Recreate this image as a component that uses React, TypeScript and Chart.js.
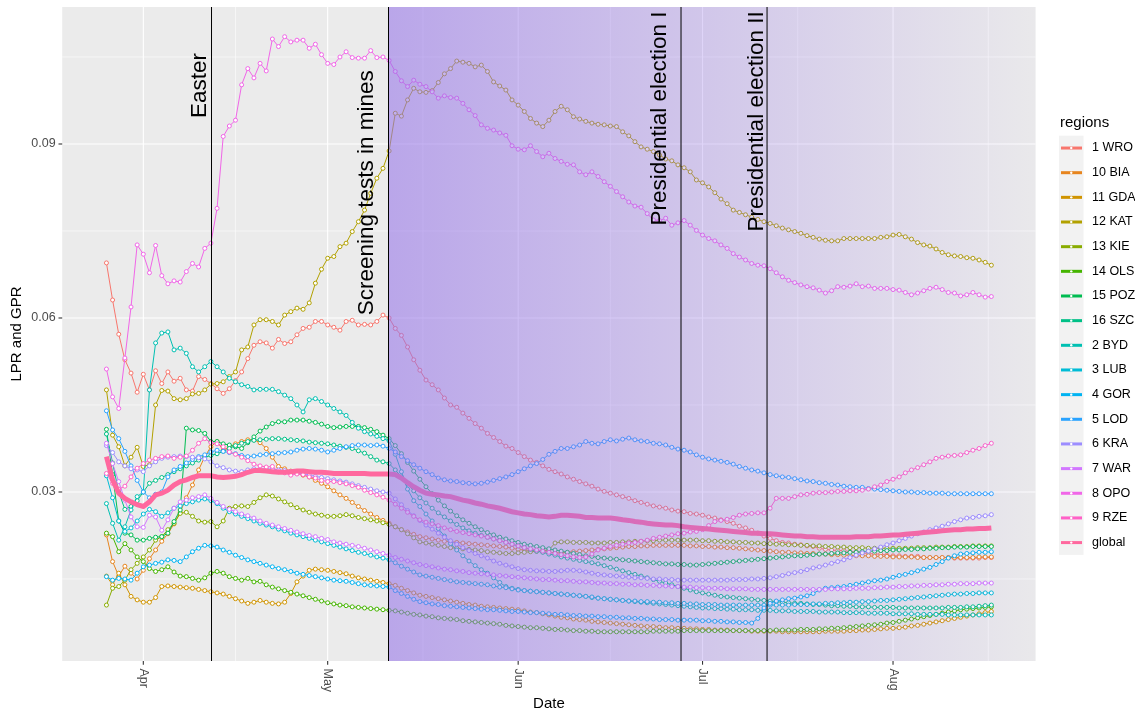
import React, { useEffect, useRef } from "react";
import { Chart, registerables } from "chart.js";

Chart.register(...registerables);

// Daily values from 26 Mar 2020 (day -6, relative to 1 Apr 2020) to 17 Aug 2020,
// expressed in units of 0.0001 (e.g. 512 -> 0.0512)
const FIRST_DAY = -6;
const VALUE_UNIT = 0.0001;

const WRO = [
  695, 631, 572, 528, 505, 472, 503, 476, 509, 487,
  507, 491, 496, 476, 474, 499, 494, 487, 478, 470,
  478, 492, 507, 530, 553, 559, 557, 548, 563, 556,
  559, 571, 582, 584, 594, 594, 588, 584, 579, 594,
  596, 588, 589, 588, 594, 605, 600, 582, 570, 550,
  528, 510, 493, 485, 476, 462, 450, 446, 436, 427,
  418, 410, 401, 394, 387, 379, 375, 368, 361, 355,
  351, 345, 339, 335, 331, 326, 322, 318, 314, 310,
  305, 301, 298, 295, 292, 289, 285, 282, 279, 276,
  274, 272, 269, 267, 266, 263, 262, 260, 257, 255,
  252, 249, 246, 241, 238, 234, 229, 224, 220, 216,
  213, 212, 210, 209, 207, 206, 203, 201, 200, 199,
  199, 197, 197, 195, 194, 193, 193, 191, 190, 190,
  189, 189, 189, 187, 187, 187, 187, 187, 186, 186,
  186, 186, 186, 187, 187,
];
const BIA = [
  226, 180, 155, 172, 160, 150, 165, 185, 200, 215,
  228, 245, 265, 290, 312, 338, 361, 378, 387, 372,
  378, 383, 387, 390, 390, 385, 375, 360, 344, 340,
  336, 332, 329, 326, 320, 315, 309, 302, 295, 289,
  282, 275, 268, 262, 256, 251, 246, 240, 235, 231,
  227, 223, 221, 219, 217, 215, 214, 213, 212, 211,
  210, 209, 208, 207, 206, 205, 203, 201, 200, 199,
  198, 197, 196, 195, 195, 196, 197, 198, 199, 200,
  201, 202, 203, 204, 205, 206, 206, 207, 207, 208,
  208, 208, 208, 208, 208, 207, 207, 206, 206, 205,
  205, 204, 204, 203, 202, 201, 200, 199, 198, 197,
  196, 196, 195, 195, 194, 194, 193, 193, 192, 192,
  191, 191, 190, 190, 190, 189, 189, 189, 188, 188,
  188, 188, 187, 187, 187, 187, 187, 187, 187, 187,
  187, 187, 188, 188, 188,
];
const GDA = [
  155, 140, 160, 140, 120, 114, 110, 110, 118, 137,
  138, 137, 136, 135, 134, 132, 130, 128, 126, 124,
  120, 116, 112, 108, 110, 113, 110, 108, 107, 110,
  125, 145, 155, 165, 167, 166, 165, 163, 161, 159,
  155, 152, 150, 148, 146, 144, 142, 139, 134, 130,
  126, 122, 120, 118, 116, 114, 112, 110, 108, 106,
  105, 103, 102, 101, 100, 99, 98, 97, 95, 93,
  92, 90, 88, 86, 84, 83, 81, 80, 79, 77,
  76, 75, 74, 73, 72, 71, 70, 69, 68, 68,
  67, 66, 66, 65, 65, 64, 64, 63, 63, 62,
  62, 62, 61, 61, 61, 60, 60, 60, 60, 60,
  59, 59, 59, 59, 59, 59, 59, 60, 60, 60,
  60, 61, 61, 62, 62, 63, 64, 65, 65, 66,
  67, 69, 70, 72, 74, 76, 78, 80, 82, 84,
  86, 88, 90, 92, 94,
];
const KAT = [
  476, 398, 378, 345, 360, 377, 344, 347, 450, 475,
  474, 461, 459, 461, 469, 470, 476, 486, 487, 490,
  499, 507, 545, 550, 588, 597, 597, 594, 588, 605,
  611, 617, 615, 626, 660, 684, 703, 706, 723, 729,
  749, 766, 786, 815, 841, 858, 888, 953, 948, 976,
  996, 990, 989, 992, 1006, 1021, 1030, 1043, 1041, 1039,
  1033, 1036, 1025, 1007, 1000, 993, 976, 967, 956, 944,
  936, 930, 941, 956, 965, 959, 947, 943, 939, 936,
  934, 933, 931, 930, 921, 914, 904, 895, 891, 887,
  881, 874, 871, 864, 859, 852, 838, 833, 826, 816,
  805, 797, 786, 782, 778, 774, 770, 766, 763, 759,
  755, 752, 749, 746, 742, 739, 736, 734, 733, 733,
  737, 737, 737, 737, 737, 737, 739, 740, 743, 744,
  740, 736, 730, 726, 724, 719, 713, 709, 707, 706,
  704, 703, 700, 696, 691,
];
const KIE = [
  105, 134, 137, 148, 166, 177, 188, 200, 217, 223,
  235, 246, 263, 265, 258, 250, 248, 249, 240, 250,
  272, 275, 276, 275, 282, 290, 295, 293, 288, 283,
  278, 273, 269, 265, 262, 260, 258, 258, 259, 261,
  259, 256, 254, 252, 250, 247, 244, 240, 235, 228,
  221, 214, 212, 210, 208, 206, 204, 203, 202, 201,
  200, 199, 197, 196, 195, 194, 194, 195, 196, 197,
  198, 199, 200, 212, 214, 214, 213, 213, 213, 212,
  212, 212, 213, 213, 214, 214, 215, 215, 216, 216,
  217, 217, 217, 217, 217, 217, 217, 216, 216, 215,
  215, 214, 214, 213, 213, 212, 212, 211, 211, 210,
  210, 209, 209, 208, 208, 207, 207, 206, 206, 205,
  205, 204, 204, 204, 203, 203, 203, 203, 203, 203,
  203, 203, 204, 204, 204, 205, 205, 205, 206, 206,
  206, 207, 207, 207, 207,
];
const OLS = [
  229, 223, 197, 211, 200, 188, 180, 168, 163, 166,
  171, 162, 155, 154, 151, 148, 152, 160, 163, 160,
  154, 151, 148, 151, 145, 146, 140, 136, 133, 130,
  127, 124, 121, 118, 115, 112, 109, 107, 105, 104,
  102, 101, 100, 99, 98, 97, 96, 95, 93, 91,
  89, 88, 86, 85, 83, 82, 81, 80, 78, 77,
  76, 75, 74, 73, 72, 70, 69, 68, 67, 66,
  66, 65, 64, 63, 63, 62, 61, 61, 60, 60,
  59, 59, 59, 59, 59, 59, 59, 59, 59, 60,
  60, 60, 60, 60, 61, 61, 61, 61, 61, 61,
  61, 61, 61, 61, 61, 61, 61, 61, 61, 62,
  62, 62, 62, 63, 63, 63, 64, 64, 65, 65,
  66, 67, 68, 69, 70, 71, 72, 74, 75, 77,
  79, 81, 83, 85, 87, 89, 91, 93, 95, 97,
  98, 99, 100, 101, 102,
];
const POZ = [
  408, 330, 250, 229, 226, 217, 217, 220, 222, 223,
  229, 249, 269, 410, 407, 406, 401, 387, 387, 383,
  381, 378, 375, 385, 395, 405, 412, 418, 421, 421,
  424, 424, 424, 422, 420, 417, 413, 411, 412, 413,
  413, 413, 411, 408, 404, 398, 392, 380, 366, 351,
  336, 322, 309, 297, 286, 276, 267, 259, 252, 246,
  240, 235, 230, 226, 222, 219, 216, 213, 210, 208,
  206, 204, 202, 200, 198, 196, 194, 192, 190, 189,
  187, 186, 185, 184, 183, 182, 181, 180, 179, 178,
  177, 176, 176, 175, 175, 174, 174, 175, 176, 177,
  178, 179, 180, 181, 182, 183, 184, 185, 186, 187,
  188, 189, 190, 190, 191, 192, 193, 193, 194, 195,
  195, 196, 196, 197, 198, 198, 199, 199, 200, 200,
  201, 201, 202, 202, 203, 203, 204, 204, 205, 205,
  205, 206, 206, 206, 206,
];
const SZC = [
  400, 350, 300, 270, 275, 285, 300, 315, 320, 325,
  330, 335, 340, 345, 350, 355, 360, 363, 366, 370,
  375, 380, 384, 387, 389, 390, 391, 392, 392, 391,
  390, 389, 388, 386, 385, 384, 383, 381, 379, 377,
  375, 371, 367, 361, 355, 352, 349, 338, 326, 314,
  302, 290, 281, 272, 264, 257, 250, 244, 238, 233,
  229, 225, 222, 219, 216, 213, 210, 207, 204, 201,
  198, 196, 193, 191, 188, 186, 184, 182, 180, 178,
  176, 173, 170, 167, 164, 161, 158, 155, 152, 149,
  146, 143, 140, 137, 134, 131, 128, 126, 124, 122,
  120, 119, 118, 117, 116, 115, 114, 113, 112, 111,
  110, 109, 108, 108, 107, 106, 106, 105, 104, 104,
  103, 103, 102, 102, 102, 101, 101, 101, 101, 100,
  100, 100, 100, 100, 100, 100, 100, 101, 101, 101,
  102, 102, 103, 104, 105,
];
const BYD = [
  280, 246, 217, 240, 269, 292, 300, 476, 557, 574,
  576, 545, 548, 539, 516, 507, 516, 525, 516, 507,
  496, 490, 485, 482, 476, 477, 477, 477, 473, 467,
  461, 450, 438, 459, 461, 456, 450, 444, 438, 432,
  420, 410, 404, 400, 396, 392, 388, 365, 335, 305,
  285, 275, 262, 250, 237, 224, 211, 200, 190, 181,
  173, 166, 160, 152, 144, 137, 134, 132, 130, 129,
  128, 127, 126, 125, 124, 123, 122, 121, 120, 118,
  117, 116, 115, 114, 113, 112, 111, 110, 109, 108,
  107, 106, 105, 104, 103, 102, 101, 100, 100, 99,
  99, 98, 98, 97, 97, 97, 96, 96, 96, 95,
  95, 95, 94, 94, 94, 94, 93, 93, 93, 93,
  92, 92, 92, 92, 91, 91, 91, 91, 90, 90,
  90, 90, 89, 89, 89, 89, 89, 88, 88, 88,
  88, 88, 88, 88, 88,
];
const LUB = [
  328, 290, 250, 232, 238, 250, 262, 270, 266, 258,
  264, 272, 276, 280, 283, 286, 288, 285, 280, 272,
  266, 262, 258, 254, 250, 246, 243, 240, 236, 233,
  229, 226, 223, 220, 217, 214, 211, 208, 205, 202,
  199, 196, 194, 191, 188, 186, 183, 178, 172, 167,
  162, 157, 155, 153, 151, 149, 147, 145, 144, 143,
  142, 141, 140, 138, 136, 135, 133, 131, 130, 129,
  128, 127, 126, 125, 124, 123, 122, 121, 120, 119,
  117, 116, 115, 114, 113, 112, 112, 111, 111, 110,
  110, 109, 109, 108, 108, 107, 107, 106, 106, 106,
  105, 105, 105, 105, 105, 105, 105, 105, 105, 105,
  105, 105, 106, 106, 106, 107, 107, 108, 108, 109,
  109, 110, 110, 111, 111, 112, 113, 113, 114, 115,
  116, 117, 118, 119, 120, 121, 122, 123, 124, 124,
  125, 125, 126, 126, 126,
];
const GOR = [
  154, 148, 151, 150, 148, 160, 171, 174, 177, 179,
  183, 182, 180, 188, 197, 203, 208, 207, 205, 200,
  196, 191, 187, 183, 180, 177, 174, 171, 168, 166,
  163, 160, 158, 156, 154, 152, 150, 148, 147, 146,
  144, 142, 140, 139, 138, 137, 136, 130, 125, 120,
  115, 111, 109, 107, 106, 104, 103, 102, 101, 100,
  99, 98, 97, 97, 96, 95, 94, 94, 93, 92,
  92, 91, 90, 89, 89, 88, 87, 87, 86, 86,
  85, 85, 84, 84, 83, 83, 82, 82, 81, 81,
  80, 80, 80, 79, 79, 79, 79, 78, 78, 77,
  77, 76, 76, 75, 75, 74, 82, 100, 108, 112,
  114, 116, 117, 119, 121, 125, 131, 134, 135, 136,
  137, 139, 141, 143, 145, 147, 148, 150, 153, 156,
  158, 161, 164, 167, 170, 175, 180, 186, 190, 193,
  194, 195, 196, 196, 197,
];
const LOD = [
  440, 407, 392, 370, 345, 320, 300, 290, 296, 300,
  326, 338, 344, 350, 356, 361, 364, 369, 372, 370,
  368, 366, 363, 361, 362, 364, 365, 366, 367, 368,
  369, 372, 374, 375, 374, 372, 369, 372, 375, 378,
  380, 381, 381, 380, 381, 379, 375, 369, 361, 354,
  347, 341, 335, 330, 324, 321, 319, 318, 316, 315,
  314, 315, 317, 320, 323, 326, 330, 335, 340, 345,
  349, 356, 365, 370, 375, 375, 378, 381, 387, 384,
  383, 387, 390, 388, 391, 393, 390, 388, 387, 384,
  383, 381, 377, 374, 372, 369, 364, 360, 357, 355,
  353, 351, 348, 344, 341, 338, 336, 333, 330, 328,
  326, 325, 323, 321, 319, 318, 316, 315, 313, 312,
  310, 309, 308, 308, 306, 305, 304, 303, 302, 301,
  300, 300, 299, 299, 298, 298, 298, 297, 297, 297,
  297, 297, 297, 297, 297,
];
const KRA = [
  380, 368, 352, 345, 340, 338, 335, 345, 352, 358,
  360, 361, 362, 361, 360, 359, 357, 352, 345, 342,
  338, 336, 335, 338, 340, 340, 340, 339, 338, 337,
  335, 333, 331, 329, 327, 325, 323, 321, 319, 317,
  314, 311, 308, 305, 302, 300, 298, 288, 278, 268,
  259, 251, 243, 236, 229, 222, 216, 210, 204, 199,
  194, 190, 186, 181, 177, 174, 171, 168, 166, 165,
  164, 164, 163, 163, 164, 165, 165, 164, 162, 160,
  158, 157, 156, 155, 154, 153, 152, 152, 151, 150,
  150, 149, 149, 148, 148, 148, 148, 148, 148, 148,
  148, 148, 149, 149, 149, 150, 150, 151, 152, 154,
  156, 159, 161, 163, 166, 169, 171, 174, 177, 180,
  183, 187, 191, 195, 198, 202, 205, 209, 212, 216,
  220, 224, 228, 231, 235, 238, 241, 245, 249, 252,
  255, 256, 258, 259, 261,
];
const WAR = [
  384, 349, 318, 286, 257, 240, 239, 260, 257, 234,
  252, 272, 283, 286, 290, 292, 295, 289, 282, 275,
  270, 266, 262, 259, 255, 250, 246, 243, 240, 237,
  234, 231, 228, 225, 223, 220, 218, 214, 212, 210,
  208, 206, 203, 200, 197, 194, 191, 187, 184, 181,
  178, 175, 173, 171, 169, 167, 166, 164, 163, 161,
  160, 159, 158, 157, 156, 155, 154, 153, 152, 151,
  150, 149, 149, 148, 147, 147, 146, 145, 145, 144,
  143, 143, 142, 142, 141, 141, 140, 140, 139, 139,
  138, 138, 137, 137, 136, 136, 135, 135, 134, 134,
  134, 133, 133, 133, 133, 132, 132, 132, 132, 132,
  132, 132, 132, 132, 132, 132, 132, 132, 133, 133,
  133, 133, 134, 134, 134, 135, 135, 136, 136, 137,
  137, 138, 138, 139, 139, 140, 140, 141, 141, 142,
  142, 142, 143, 143, 143,
];
const OPO = [
  512, 464, 444, 531, 619, 726, 710, 678, 725, 673,
  659, 664, 662, 680, 694, 688, 720, 729, 789, 913,
  931, 941, 1002, 1030, 1014, 1039, 1026, 1081, 1068, 1085,
  1076, 1079, 1079, 1065, 1072, 1054, 1039, 1037, 1050, 1059,
  1049, 1048, 1048, 1061, 1049, 1050, 1044, 1025, 1009, 999,
  1010, 1003, 999, 990, 979, 983, 980, 979, 970, 959,
  949, 933, 927, 924, 919, 915, 897, 891, 890, 897,
  887, 878, 884, 875, 870, 865, 864, 852, 847, 852,
  844, 835, 827, 818, 809, 800, 793, 791, 780, 769,
  768, 772, 760, 764, 768, 760, 751, 743, 737, 733,
  726, 720, 711, 705, 700, 694, 691, 690, 685, 678,
  671, 665, 661, 657, 654, 652, 648, 643, 647, 654,
  653, 655, 659, 654, 655, 651, 651, 651, 649, 648,
  644, 640, 643, 647, 651, 653, 649, 644, 643, 638,
  640, 644, 640, 636, 637,
];
const RZE = [
  332, 315, 305, 310, 326, 341, 349, 355, 358, 361,
  362, 358, 360, 362, 372, 384, 392, 385, 383, 378,
  369, 365, 360, 354, 348, 345, 343, 344, 335, 333,
  329, 331, 330, 326, 324, 320, 318, 318, 316, 314,
  311, 308, 303, 299, 295, 291, 286, 279, 272, 265,
  258, 252, 248, 245, 242, 238, 235, 232, 230, 228,
  226, 224, 222, 219, 216, 213, 210, 207, 204, 202,
  200, 198, 196, 194, 192, 190, 188, 187, 188, 193,
  200, 203, 206, 208, 210, 212, 213, 215, 217, 220,
  222, 224, 226, 228, 229, 231, 232, 235, 242, 249,
  251, 253, 256, 260, 262, 263, 264, 264, 272, 289,
  289, 289, 292, 295, 296, 298, 299, 299, 300, 301,
  301, 302, 302, 303, 305, 309, 312, 318, 322, 326,
  333, 338, 342, 347, 352, 358, 360, 362, 363, 364,
  368, 372, 375, 380, 384,
];
const GLOBAL = [
  361, 321, 298, 289, 283, 278, 275, 283, 295, 298,
  303, 312, 318, 321, 325, 328, 328, 328, 326, 325,
  326, 327, 330, 334, 337, 337, 336, 335, 334, 334,
  335, 336, 336, 335, 334, 334, 333, 332, 332, 332,
  332, 332, 332, 331, 331, 331, 331, 330, 324, 316,
  309, 303, 298, 296, 295, 293, 292, 289, 286, 284,
  281, 279, 276, 274, 272, 269, 266, 264, 262, 261,
  259, 258, 257, 258, 260, 260, 259, 258, 256, 256,
  255, 255, 255, 254, 252, 251, 249, 248, 246, 245,
  244, 243, 243, 242, 240, 239, 238, 237, 236, 235,
  234, 233, 232, 231, 230, 229, 229, 228, 228, 227,
  226, 225, 224, 224, 223, 223, 222, 222, 222, 222,
  222, 222, 223, 223, 223, 224, 224, 225, 226, 226,
  227, 228, 229, 230, 231, 232, 233, 234, 235, 235,
  236, 236, 237, 237, 238,
];

const REGION_NAMES = [
  "1 WRO", "10 BIA", "11 GDA", "12 KAT", "13 KIE", "14 OLS", "15 POZ", "16 SZC",
  "2 BYD", "3 LUB", "4 GOR", "5 LOD", "6 KRA", "7 WAR", "8 OPO", "9 RZE", "global",
];
const REGION_VALUES = [
  WRO, BIA, GDA, KAT, KIE, OLS, POZ, SZC, BYD, LUB, GOR, LOD, KRA, WAR, OPO, RZE, GLOBAL,
];

// axis breaks (x in days relative to 1 April 2020)
const MONTH_LABELS = ["Apr", "May", "Jun", "Jul", "Aug"];
const MONTH_DAYS = [0, 30, 61, 91, 122];
const MINOR_X_DAYS = [15, 45.5, 76, 106.5, 137.5];
const Y_TICKS = [0.03, 0.06, 0.09];
const Y_TICK_LABELS = ["0.03", "0.06", "0.09"];
const Y_MINOR = [0.015, 0.045, 0.075, 0.105];
const X_RANGE = [-13.2, 145.2];
const Y_RANGE = [0.00086, 0.11362];

// events
const EVENT_NAMES = ["Easter", "Screening tests in mines", "Presidential election I", "Presidential election II"];
const EVENT_DAYS = [11.1, 39.9, 87.5, 101.5];
const EVENT_LABEL_DAYS = [10.15, 37.3, 85.0, 100.85];
const EVENT_LABEL_VALUES = [0.1001, 0.0816, 0.0944, 0.0939];
const SHADE_FROM_DAY = 39.9;

const FONT = "'Liberation Sans', Arial, Helvetica, sans-serif";

// ggplot2 hue palette (hcl with c = 100, l = 65)
function hcl(h: number, c: number, l: number): string {
  const WHITE_Y = 100, WHITE_u = 0.1978398, WHITE_v = 0.4683363;
  const hr = (h * Math.PI) / 180;
  const U = c * Math.cos(hr), V = c * Math.sin(hr);
  const Y = WHITE_Y * (l > 7.999592 ? Math.pow((l + 16) / 116, 3) : l / 903.3);
  const u = U / (13 * l) + WHITE_u;
  const v = V / (13 * l) + WHITE_v;
  const X = (9 * Y * u) / (4 * v);
  const Z = -X / 3 - 5 * Y + (3 * Y) / v;
  const g = (t: number) => (t > 0.00304 ? 1.055 * Math.pow(t, 1 / 2.4) - 0.055 : 12.92 * t);
  const cl = (t: number) => Math.round(255 * Math.min(1, Math.max(0, t)));
  const r = cl(g((3.240479 * X - 1.53715 * Y - 0.498535 * Z) / WHITE_Y));
  const gg = cl(g((-0.969256 * X + 1.875992 * Y + 0.041556 * Z) / WHITE_Y));
  const b = cl(g((0.055648 * X - 0.204043 * Y + 1.057311 * Z) / WHITE_Y));
  return `rgb(${r},${gg},${b})`;
}
const N = REGION_NAMES.length;
const COLORS = REGION_NAMES.map((_, i) => hcl(15 + (360 / N) * i, 100, 65));

function line(ctx: CanvasRenderingContext2D, x1: number, y1: number, x2: number, y2: number) {
  ctx.beginPath();
  ctx.moveTo(x1, y1);
  ctx.lineTo(x2, y2);
  ctx.stroke();
}

const decor = {
  id: "decor",
  beforeDraw(chart: any) {
    const { ctx, chartArea: a } = chart;
    const xs = chart.scales.x, ys = chart.scales.y;
    ctx.save();
    ctx.fillStyle = "#ffffff";
    ctx.fillRect(0, 0, chart.width, chart.height);
    ctx.fillStyle = "#EBEBEB";
    ctx.fillRect(a.left, a.top, a.right - a.left, a.bottom - a.top);
    ctx.strokeStyle = "#ffffff";
    ctx.lineWidth = 0.55;
    for (const d of MINOR_X_DAYS) {
      const x = xs.getPixelForValue(d);
      line(ctx, x, a.top, x, a.bottom);
    }
    for (const v of Y_MINOR) {
      const y = ys.getPixelForValue(v);
      line(ctx, a.left, y, a.right, y);
    }
    ctx.lineWidth = 1.1;
    for (const d of MONTH_DAYS) {
      const x = xs.getPixelForValue(d);
      line(ctx, x, a.top, x, a.bottom);
    }
    for (const v of Y_TICKS) {
      const y = ys.getPixelForValue(v);
      line(ctx, a.left, y, a.right, y);
    }
    // ticks
    ctx.strokeStyle = "#333333";
    ctx.lineWidth = 1.1;
    for (const v of Y_TICKS) {
      const y = ys.getPixelForValue(v);
      line(ctx, a.left - 3.7, y, a.left, y);
    }
    for (const d of MONTH_DAYS) {
      const x = xs.getPixelForValue(d);
      line(ctx, x, a.bottom, x, a.bottom + 3.7);
    }
    ctx.fillStyle = "#4D4D4D";
    ctx.font = `12.5px ${FONT}`;
    ctx.textAlign = "right";
    ctx.textBaseline = "middle";
    Y_TICKS.forEach((v, i) => ctx.fillText(Y_TICK_LABELS[i], a.left - 6.6, ys.getPixelForValue(v)));
    MONTH_DAYS.forEach((d, i) => {
      ctx.save();
      ctx.translate(xs.getPixelForValue(d), a.bottom + 7.5);
      ctx.rotate(Math.PI / 2);
      ctx.textAlign = "left";
      ctx.textBaseline = "middle";
      ctx.fillText(MONTH_LABELS[i], 0, 0);
      ctx.restore();
    });
    // axis titles
    ctx.fillStyle = "#000000";
    ctx.font = `15px ${FONT}`;
    ctx.textAlign = "center";
    ctx.textBaseline = "alphabetic";
    ctx.fillText("Date", (a.left + a.right) / 2, 708);
    ctx.save();
    ctx.translate(16.5, (a.top + a.bottom) / 2);
    ctx.rotate(-Math.PI / 2);
    ctx.textBaseline = "middle";
    ctx.fillText("LPR and GPR", 0, 0);
    ctx.restore();
    // legend
    const lx = 1059, ly0 = 135.7, kh = 24.66, kw = 24.5;
    ctx.textAlign = "left";
    ctx.textBaseline = "alphabetic";
    ctx.font = `15px ${FONT}`;
    ctx.fillText("regions", 1060, 127);
    ctx.fillStyle = "#F2F2F2";
    ctx.fillRect(lx, ly0, kw, kh * N);
    ctx.font = `12.5px ${FONT}`;
    ctx.textBaseline = "middle";
    REGION_NAMES.forEach((name, k) => {
      const cy = ly0 + kh * (k + 0.5);
      ctx.strokeStyle = COLORS[k];
      ctx.lineWidth = 3;
      line(ctx, lx + 2, cy, lx + kw - 1.5, cy);
      ctx.fillStyle = "#ffffff";
      ctx.beginPath();
      ctx.arc(lx + kw / 2, cy, 1.2, 0, Math.PI * 2);
      ctx.fill();
      ctx.fillStyle = "#000000";
      ctx.fillText(name, 1092, cy);
    });
    ctx.restore();
  },
  afterDatasetsDraw(chart: any) {
    const { ctx, chartArea: a } = chart;
    const xs = chart.scales.x, ys = chart.scales.y;
    ctx.save();
    ctx.beginPath();
    ctx.rect(a.left, a.top, a.right - a.left, a.bottom - a.top);
    ctx.clip();
    const x0 = xs.getPixelForValue(SHADE_FROM_DAY);
    const grad = ctx.createLinearGradient(x0, 0, a.right, 0);
    grad.addColorStop(0, "rgba(150,116,232,0.58)");
    grad.addColorStop(1, "rgba(150,116,232,0.02)");
    ctx.fillStyle = grad;
    ctx.fillRect(x0, a.top, a.right - x0, a.bottom - a.top);
    ctx.strokeStyle = "#000000";
    ctx.lineWidth = 1;
    for (const d of EVENT_DAYS) {
      const x = xs.getPixelForValue(d);
      line(ctx, x, a.top, x, a.bottom);
    }
    ctx.restore();
    ctx.save();
    ctx.fillStyle = "#000000";
    ctx.font = `22.5px ${FONT}`;
    ctx.textAlign = "center";
    ctx.textBaseline = "alphabetic";
    EVENT_NAMES.forEach((name, k) => {
      ctx.save();
      ctx.translate(xs.getPixelForValue(EVENT_LABEL_DAYS[k]), ys.getPixelForValue(EVENT_LABEL_VALUES[k]));
      ctx.rotate(-Math.PI / 2);
      ctx.fillText(name, 0, 0);
      ctx.restore();
    });
    ctx.restore();
  },
};

export default function App() {
  const ref = useRef<HTMLCanvasElement>(null);
  useEffect(() => {
    document.body.style.margin = "0";
    const canvas = ref.current;
    if (!canvas) return;
    const datasets = REGION_VALUES.map((vals, k) => {
      const isGlobal = REGION_NAMES[k] === "global";
      return {
        label: REGION_NAMES[k],
        data: vals.map((v, i) => ({ x: FIRST_DAY + i, y: v * VALUE_UNIT })),
        borderColor: COLORS[k],
        backgroundColor: COLORS[k],
        borderWidth: isGlobal ? 5 : 1,
        pointRadius: isGlobal ? 0 : 2,
        pointBorderWidth: 1,
        pointBackgroundColor: "#ffffff",
        pointBorderColor: COLORS[k],
        pointHoverRadius: 0,
        tension: 0,
        fill: false,
        order: isGlobal ? -1 : 100 - k,
      };
    });
    const chart = new Chart(canvas, {
      type: "line",
      data: { datasets },
      options: {
        responsive: false,
        animation: false,
        devicePixelRatio: 1,
        events: [],
        layout: { padding: { left: 62.2, right: 99.4, top: 7, bottom: 56 } },
        scales: {
          x: { type: "linear", min: X_RANGE[0], max: X_RANGE[1], display: false },
          y: { type: "linear", min: Y_RANGE[0], max: Y_RANGE[1], display: false },
        },
        plugins: { legend: { display: false }, tooltip: { enabled: false } },
      },
      plugins: [decor],
    } as any);
    return () => chart.destroy();
  }, []);
  return (
    <div style={{ position: "absolute", left: 0, top: 0, width: 1135, height: 717, background: "#ffffff" }}>
      <canvas ref={ref} width={1135} height={717} style={{ display: "block" }} />
    </div>
  );
}
